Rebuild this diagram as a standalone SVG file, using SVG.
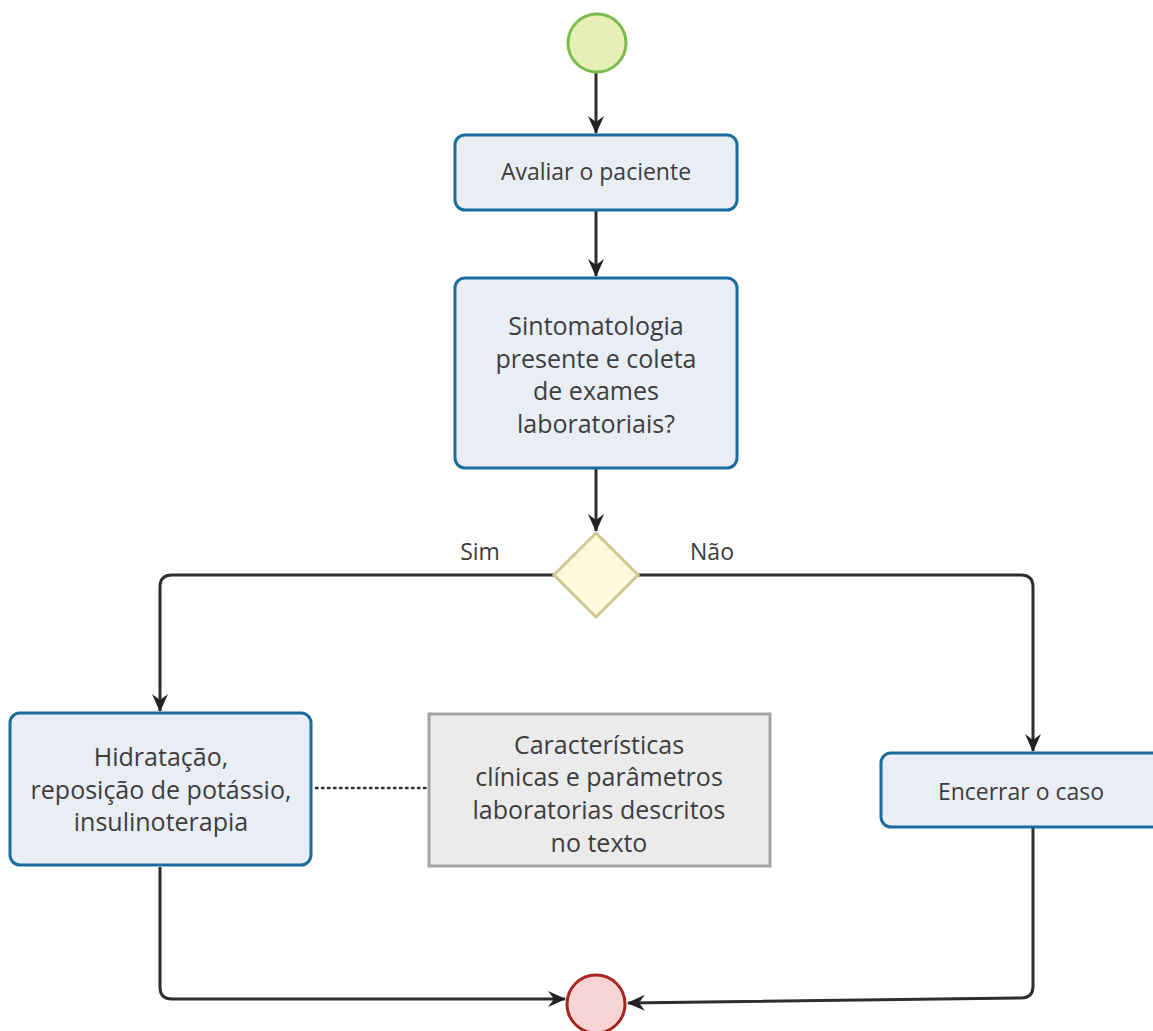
<svg xmlns="http://www.w3.org/2000/svg" width="1153" height="1031" viewBox="0 0 1153 1031">
  <style>
    .box { fill: #e9eef4; stroke: #1b6d9e; stroke-width: 3; }
    .note { fill: #ebebeb; stroke: #a3a3a3; stroke-width: 3; }
    .lbl { font-family: "Open Sans", "Liberation Sans", sans-serif; font-size: 23px; fill: #3d3d3d; text-anchor: middle; }
    .big { font-size: 25px; }
    .edge { fill: none; stroke: #2e2e2e; stroke-width: 3; stroke-linejoin: round; }
    .dots { fill: none; stroke: #2e2e2e; stroke-width: 2.5; stroke-dasharray: 1.5 4.5; stroke-linecap: round; }
  </style>
  <defs>
    <marker id="arrow" markerUnits="userSpaceOnUse" markerWidth="20" markerHeight="18" refX="17" refY="9" orient="auto">
      <path d="M0,1 L18,9 L0,17 L6,9 z" fill="#222"/>
    </marker>
  </defs>
  <rect width="1153" height="1031" fill="#ffffff"/>

  <g id="connectors">
    <path class="edge" d="M596,73 V133" marker-end="url(#arrow)"/>
    <path class="edge" d="M596,210 V276" marker-end="url(#arrow)"/>
    <path class="edge" d="M596,469 V531" marker-end="url(#arrow)"/>
    <path class="edge" d="M554,575 H172 Q160,575 160,587 V711" marker-end="url(#arrow)"/>
    <path class="edge" d="M638,575 H1021 Q1033,575 1033,587 V751" marker-end="url(#arrow)"/>
    <path class="edge" d="M160,867 V987 Q160,999 172,999 H565" marker-end="url(#arrow)"/>
    <path class="edge" d="M1033,828 V986 Q1033,998 1021,998 L628,1003" marker-end="url(#arrow)"/>
    <path class="dots" d="M316,788 H427"/>
  </g>

  <g id="start">
    <circle cx="597" cy="43" r="29" fill="#e5efb6" stroke="#7dbb4f" stroke-width="3"/>
  </g>

  <g id="avaliar">
    <rect class="box" x="455" y="135" width="282" height="75" rx="10"/>
    <text class="lbl" x="596" y="180">Avaliar o paciente</text>
  </g>

  <g id="sintomatologia">
    <rect class="box" x="455" y="278" width="282" height="190" rx="10"/>
    <text class="lbl big" x="596" y="335">Sintomatologia</text>
    <text class="lbl big" x="596" y="368">presente e coleta</text>
    <text class="lbl big" x="596" y="400">de exames</text>
    <text class="lbl big" x="596" y="433">laboratoriais?</text>
  </g>

  <g id="decisao">
    <polygon points="596,533 638,575 596,617 554,575" fill="#fdf9dc" stroke="#cdc98f" stroke-width="3"/>
    <text class="lbl" x="480" y="560">Sim</text>
    <text class="lbl" x="712" y="560">Não</text>
  </g>

  <g id="tratamento">
    <rect class="box" x="10" y="713" width="301" height="152" rx="10"/>
    <text class="lbl big" x="161" y="766">Hidratação,</text>
    <text class="lbl big" x="161" y="799">reposição de potássio,</text>
    <text class="lbl big" x="161" y="831">insulinoterapia</text>
  </g>

  <g id="nota">
    <rect class="note" x="429" y="714" width="341" height="152"/>
    <text class="lbl big" x="599" y="754">Características</text>
    <text class="lbl big" x="599" y="786">clínicas e parâmetros</text>
    <text class="lbl big" x="599" y="819">laboratorias descritos</text>
    <text class="lbl big" x="599" y="852">no texto</text>
  </g>

  <g id="encerrar">
    <rect class="box" x="881" y="753" width="282" height="74" rx="10"/>
    <text class="lbl" x="1021" y="800">Encerrar o caso</text>
  </g>

  <g id="fim">
    <circle cx="596" cy="1004" r="29" fill="#f6d4d3" stroke="#a52523" stroke-width="3"/>
  </g>
</svg>
